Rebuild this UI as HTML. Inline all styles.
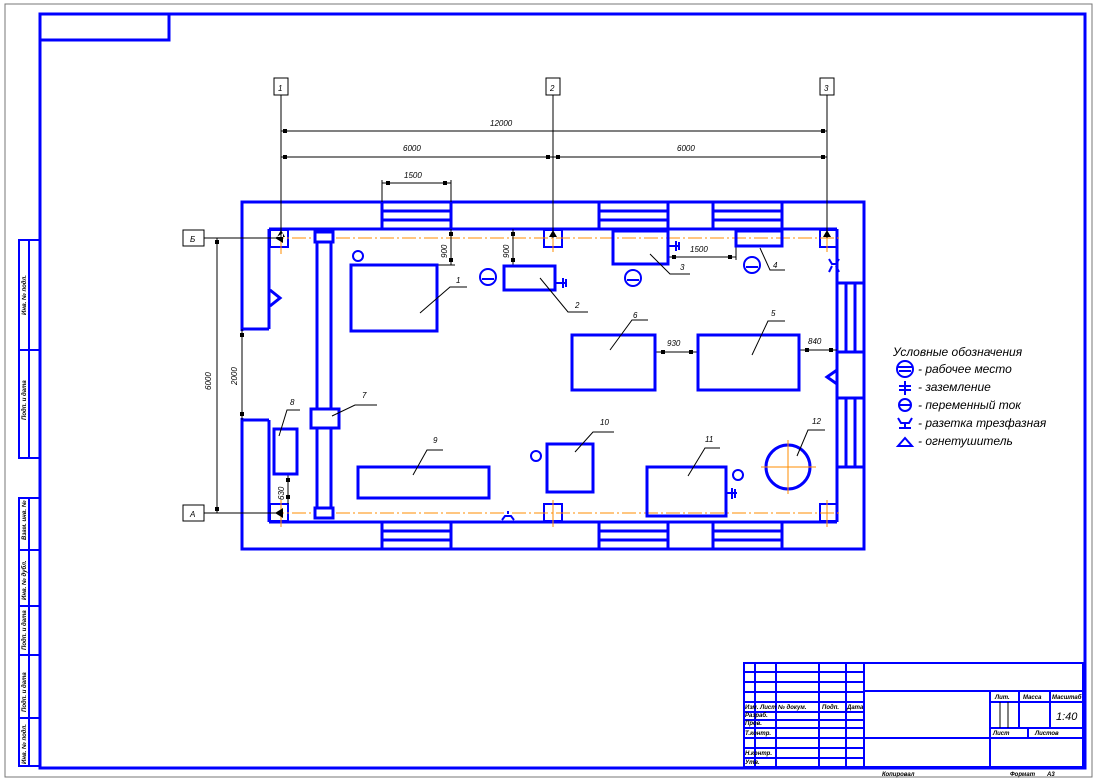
<!DOCTYPE html>
<html><head><meta charset="utf-8"><style>
html,body{margin:0;padding:0;background:#fff}
svg{display:block}
text{font-family:"Liberation Sans",sans-serif;font-style:italic;fill:#000}
.b{stroke:#0000ff;stroke-width:3;fill:none}
.bt{stroke:#0000ff;stroke-width:2;fill:none}
.k{stroke:#000;stroke-width:1;fill:none}
.o{stroke:#ff8c00;stroke-width:1;fill:none;stroke-dasharray:14 3 2 3}
</style></head><body>
<svg width="1097" height="782" viewBox="0 0 1097 782" xmlns="http://www.w3.org/2000/svg">
<rect x="5" y="4" width="1087" height="773" fill="none" stroke="#777" stroke-width="1"/>
<rect x="40" y="14" width="1045" height="754" class="b"/>
<rect x="40" y="14" width="129" height="26" class="b"/>
<!-- left stamp column -->
<rect x="19" y="240" width="21" height="218" class="bt"/>
<line x1="29" y1="240" x2="29" y2="458" class="bt"/><line x1="19" y1="350" x2="40" y2="350" class="bt"/>
<rect x="19" y="498" width="21" height="268" class="bt"/>
<line x1="29" y1="498" x2="29" y2="766" class="bt"/>
<line x1="19" y1="550" x2="40" y2="550" class="bt"/><line x1="19" y1="606" x2="40" y2="606" class="bt"/><line x1="19" y1="655" x2="40" y2="655" class="bt"/><line x1="19" y1="718" x2="40" y2="718" class="bt"/>
<g font-size="6" font-weight="bold">
<text transform="translate(26,315) rotate(-90)">Инв. № подл.</text>
<text transform="translate(26,420) rotate(-90)">Подп. и дата</text>
<text transform="translate(26,540) rotate(-90)">Взам. инв. №</text>
<text transform="translate(26,600) rotate(-90)">Инв. № дубл.</text>
<text transform="translate(26,650) rotate(-90)">Подп. и дата</text>
<text transform="translate(26,712) rotate(-90)">Подп. и дата</text>
<text transform="translate(26,764) rotate(-90)">Инв. № подл.</text>
</g>
<!-- building walls -->
<rect x="242" y="202" width="622" height="347" class="b"/>
<line x1="269" y1="229" x2="837" y2="229" class="b"/>
<line x1="269" y1="522" x2="837" y2="522" class="b"/>
<line x1="837" y1="229" x2="837" y2="522" class="b"/>
<line x1="269" y1="229" x2="269" y2="329" class="b"/>
<line x1="242" y1="329" x2="269" y2="329" class="b"/>
<line x1="269" y1="420" x2="269" y2="522" class="b"/>
<line x1="242" y1="420" x2="269" y2="420" class="b"/>
<rect x="240" y="331" width="5" height="87" fill="#fff"/>
<!-- windows -->
<g class="b">
<rect x="382" y="202" width="69" height="27"/><line x1="382" y1="211" x2="451" y2="211"/><line x1="382" y1="220" x2="451" y2="220"/>
<rect x="599" y="202" width="69" height="27"/><line x1="599" y1="211" x2="668" y2="211"/><line x1="599" y1="220" x2="668" y2="220"/>
<rect x="713" y="202" width="69" height="27"/><line x1="713" y1="211" x2="782" y2="211"/><line x1="713" y1="220" x2="782" y2="220"/>
<rect x="382" y="522" width="69" height="27"/><line x1="382" y1="531" x2="451" y2="531"/><line x1="382" y1="540" x2="451" y2="540"/>
<rect x="599" y="522" width="69" height="27"/><line x1="599" y1="531" x2="668" y2="531"/><line x1="599" y1="540" x2="668" y2="540"/>
<rect x="713" y="522" width="69" height="27"/><line x1="713" y1="531" x2="782" y2="531"/><line x1="713" y1="540" x2="782" y2="540"/>
<rect x="837" y="283" width="27" height="69"/><line x1="846" y1="283" x2="846" y2="352"/><line x1="855" y1="283" x2="855" y2="352"/>
<rect x="837" y="398" width="27" height="69"/><line x1="846" y1="398" x2="846" y2="467"/><line x1="855" y1="398" x2="855" y2="467"/>
</g>
<!-- columns -->
<g class="bt">
<rect x="270" y="230" width="18" height="17"/><rect x="544" y="230" width="18" height="17"/><rect x="820" y="230" width="17" height="17"/>
<rect x="270" y="504" width="18" height="17"/><rect x="544" y="504" width="18" height="17"/><rect x="820" y="504" width="17" height="17"/>
</g>
<!-- axis lines orange -->
<line x1="270" y1="238" x2="842" y2="238" class="o"/>
<line x1="270" y1="513" x2="842" y2="513" class="o"/>
<g stroke="#ff8c00" stroke-width="1">
<line x1="281" y1="240" x2="281" y2="254"/><line x1="553" y1="226" x2="553" y2="252"/><line x1="827" y1="226" x2="827" y2="252"/>
<line x1="281" y1="500" x2="281" y2="527"/><line x1="553" y1="500" x2="553" y2="527"/><line x1="827" y1="500" x2="827" y2="527"/>
</g>
<!-- axis markers -->
<g class="k">
<rect x="274" y="78" width="14" height="17"/><rect x="546" y="78" width="14" height="17"/><rect x="820" y="78" width="14" height="17"/>
<line x1="281" y1="95" x2="281" y2="238"/><line x1="553" y1="95" x2="553" y2="238"/><line x1="827" y1="95" x2="827" y2="238"/>
<line x1="281" y1="131" x2="827" y2="131"/><line x1="281" y1="157" x2="827" y2="157"/>
<line x1="382" y1="180" x2="382" y2="202"/><line x1="451" y1="180" x2="451" y2="202"/><line x1="382" y1="183" x2="451" y2="183"/>
<rect x="183" y="230" width="21" height="16"/><rect x="183" y="505" width="21" height="16"/>
<line x1="204" y1="238" x2="281" y2="238"/><line x1="204" y1="513" x2="281" y2="513"/>
<line x1="217" y1="238" x2="217" y2="513"/><line x1="242" y1="329" x2="242" y2="420"/>
<line x1="451" y1="229" x2="451" y2="265"/><line x1="437" y1="265" x2="455" y2="265"/>
<line x1="513" y1="229" x2="513" y2="265"/>
<line x1="668" y1="257" x2="736" y2="257"/><line x1="736" y1="246" x2="736" y2="260"/>
<line x1="655" y1="352" x2="698" y2="352"/><line x1="799" y1="350" x2="837" y2="350"/>
<line x1="288" y1="474" x2="288" y2="504"/>
</g>
<g fill="#000">
<path d="M275 238 l8 -5 v10z M275 513 l8 -5 v10z M281 230 l-4 7 h8z M553 230 l-4 7 h8z M827 230 l-4 7 h8z"/>
<rect x="283" y="129" width="4" height="4"/><rect x="821" y="129" width="4" height="4"/>
<rect x="283" y="155" width="4" height="4"/><rect x="546" y="155" width="4" height="4"/><rect x="556" y="155" width="4" height="4"/><rect x="821" y="155" width="4" height="4"/>
<rect x="386" y="181" width="4" height="4"/><rect x="443" y="181" width="4" height="4"/>
<rect x="215" y="240" width="4" height="4"/><rect x="215" y="507" width="4" height="4"/>
<rect x="240" y="333" width="4" height="4"/><rect x="240" y="412" width="4" height="4"/>
<rect x="449" y="232" width="4" height="4"/><rect x="449" y="258" width="4" height="4"/>
<rect x="511" y="232" width="4" height="4"/><rect x="511" y="258" width="4" height="4"/>
<rect x="672" y="255" width="4" height="4"/><rect x="728" y="255" width="4" height="4"/>
<rect x="661" y="350" width="4" height="4"/><rect x="689" y="350" width="4" height="4"/>
<rect x="805" y="348" width="4" height="4"/><rect x="829" y="348" width="4" height="4"/>
<rect x="286" y="478" width="4" height="4"/><rect x="286" y="495" width="4" height="4"/>
</g>
<g font-size="8">
<text x="278" y="91">1</text><text x="550" y="91">2</text><text x="824" y="91">3</text>
<text x="490" y="126">12000</text><text x="403" y="151">6000</text><text x="677" y="151">6000</text><text x="404" y="178">1500</text>
<text x="190" y="242">Б</text><text x="190" y="517">А</text>
<text transform="translate(211,390) rotate(-90)">6000</text><text transform="translate(237,385) rotate(-90)">2000</text>
<text transform="translate(447,258) rotate(-90)">900</text><text transform="translate(509,258) rotate(-90)">900</text>
<text x="690" y="252">1500</text><text x="667" y="346">930</text><text x="808" y="344">840</text>
<text transform="translate(284,500) rotate(-90)">630</text>
<text x="456" y="283">1</text><text x="575" y="308">2</text><text x="680" y="270">3</text><text x="773" y="268">4</text>
<text x="771" y="316">5</text><text x="633" y="318">6</text><text x="362" y="398">7</text><text x="290" y="405">8</text>
<text x="433" y="443">9</text><text x="600" y="425">10</text><text x="705" y="442">11</text><text x="812" y="424">12</text>
</g>
<!-- equipment -->
<g class="b">
<rect x="317" y="238" width="14" height="272"/>
<rect x="315" y="232" width="18" height="10" fill="#fff"/><rect x="315" y="508" width="18" height="10" fill="#fff"/>
<rect x="311" y="409" width="28" height="19" fill="#fff"/>
<rect x="351" y="265" width="86" height="66"/>
<rect x="504" y="266" width="51" height="24"/>
<rect x="613" y="231" width="55" height="33"/>
<rect x="736" y="231" width="46" height="15"/>
<rect x="572" y="335" width="83" height="55"/>
<rect x="698" y="335" width="101" height="55"/>
<rect x="274" y="429" width="23" height="45"/>
<rect x="358" y="467" width="131" height="31"/>
<rect x="547" y="444" width="46" height="48"/>
<rect x="647" y="467" width="79" height="49"/>
<circle cx="788" cy="467" r="22"/>
<path d="M270 290 L280 298 L270 306"/>
<path d="M837 370 L827 377 L837 384"/>
</g>
<g stroke="#ff8c00" stroke-width="1"><line x1="761" y1="467" x2="816" y2="467"/><line x1="788" y1="440" x2="788" y2="494"/></g>
<!-- icons -->
<g class="bt">
<circle cx="488" cy="277" r="8"/><line x1="482" y1="279" x2="494" y2="279"/>
<circle cx="633" cy="278" r="8"/><line x1="627" y1="280" x2="639" y2="280"/>
<circle cx="752" cy="265" r="8"/><line x1="746" y1="267" x2="758" y2="267"/>
<circle cx="358" cy="256" r="5"/><circle cx="536" cy="456" r="5"/><circle cx="738" cy="475" r="5"/>
<path d="M555 283 h11 M563 278 v10 M566 279 v8"/>
<path d="M668 246 h11 M676 241 v10 M679 242 v8"/>
<path d="M726 493 h11 M732 488 v11 M735 489 v9"/>
<path d="M829 259 l3 5 h4 l3 -5 M829 272 l3 -6 M839 272 l-3 -6"/>
<path d="M502 520 l3 -4 h6 l3 4 M508 514 v-3"/>
</g>
<!-- leaders -->
<g class="k">
<path d="M420 313 L450 287 H467"/><path d="M540 278 L568 312 H588"/><path d="M650 254 L670 274 H690"/><path d="M760 248 L770 270 H785"/>
<path d="M610 350 L632 320 H648"/><path d="M752 355 L768 321 H785"/><path d="M332 416 L355 405 H377"/><path d="M279 436 L287 410 H300"/>
<path d="M413 475 L427 450 H443"/><path d="M575 452 L593 432 H614"/><path d="M688 476 L705 448 H720"/><path d="M797 456 L808 430 H825"/>
</g>
<!-- legend -->
<g font-size="12">
<text x="893" y="356">Условные обозначения</text>
<text x="918" y="373">- рабочее место</text>
<text x="918" y="391">- заземление</text>
<text x="918" y="409">- переменный ток</text>
<text x="918" y="427">- разетка трезфазная</text>
<text x="918" y="445">- огнетушитель</text>
</g>
<g class="bt">
<circle cx="905" cy="369" r="8"/><line x1="899" y1="371" x2="911" y2="371"/><line x1="897" y1="367" x2="913" y2="367"/>
<path d="M899 386 h12 M899 390 h12 M905 381 v14"/>
<circle cx="905" cy="405" r="6"/><line x1="899" y1="405" x2="911" y2="405"/>
<path d="M898 418 l3 5 h8 l3 -5 M899 428 h12 M905 423 v5"/>
<path d="M898 446 L905 438 L912 446 Z"/>
</g>
<!-- title block -->
<g class="bt">
<rect x="744" y="663" width="339" height="104"/>
<line x1="864" y1="663" x2="864" y2="767"/><line x1="864" y1="691" x2="1083" y2="691"/>
<line x1="864" y1="738" x2="1083" y2="738"/><line x1="990" y1="691" x2="990" y2="767"/>
<line x1="990" y1="702" x2="1083" y2="702"/><line x1="990" y1="728" x2="1083" y2="728"/>
<line x1="1019" y1="691" x2="1019" y2="728"/><line x1="1050" y1="691" x2="1050" y2="728"/><line x1="1028" y1="728" x2="1028" y2="738"/>
<line x1="755" y1="663" x2="755" y2="767"/><line x1="776" y1="663" x2="776" y2="702"/><line x1="819" y1="663" x2="819" y2="767"/><line x1="846" y1="663" x2="846" y2="767"/>
<line x1="776" y1="702" x2="776" y2="767"/>
<line x1="744" y1="672" x2="864" y2="672"/><line x1="744" y1="682" x2="864" y2="682"/><line x1="744" y1="692" x2="864" y2="692"/><line x1="744" y1="702" x2="864" y2="702"/>
<line x1="744" y1="712" x2="864" y2="712"/><line x1="744" y1="720" x2="864" y2="720"/><line x1="744" y1="728" x2="864" y2="728"/><line x1="744" y1="738" x2="864" y2="738"/>
<line x1="744" y1="748" x2="864" y2="748"/><line x1="744" y1="758" x2="864" y2="758"/>
</g>
<g class="k"><line x1="1000" y1="702" x2="1000" y2="728"/><line x1="1008" y1="702" x2="1008" y2="728"/></g>
<g font-size="6" font-weight="bold">
<text x="745" y="709">Изм. Лист</text><text x="778" y="709">№ докум.</text><text x="822" y="709">Подп.</text><text x="847" y="709">Дата</text>
<text x="745" y="717">Разраб.</text><text x="745" y="725">Пров.</text><text x="745" y="735">Т.контр.</text>
<text x="745" y="755">Н.контр.</text><text x="745" y="764">Утв.</text>
<text x="995" y="699">Лит.</text><text x="1023" y="699">Масса</text><text x="1052" y="699">Масштаб</text>
<text x="993" y="735">Лист</text><text x="1035" y="735">Листов</text>
<text x="882" y="776">Копировал</text><text x="1010" y="776">Формат</text><text x="1047" y="776">А3</text>
</g>
<text x="1056" y="720" font-size="11">1:40</text>
</svg>
</body></html>
